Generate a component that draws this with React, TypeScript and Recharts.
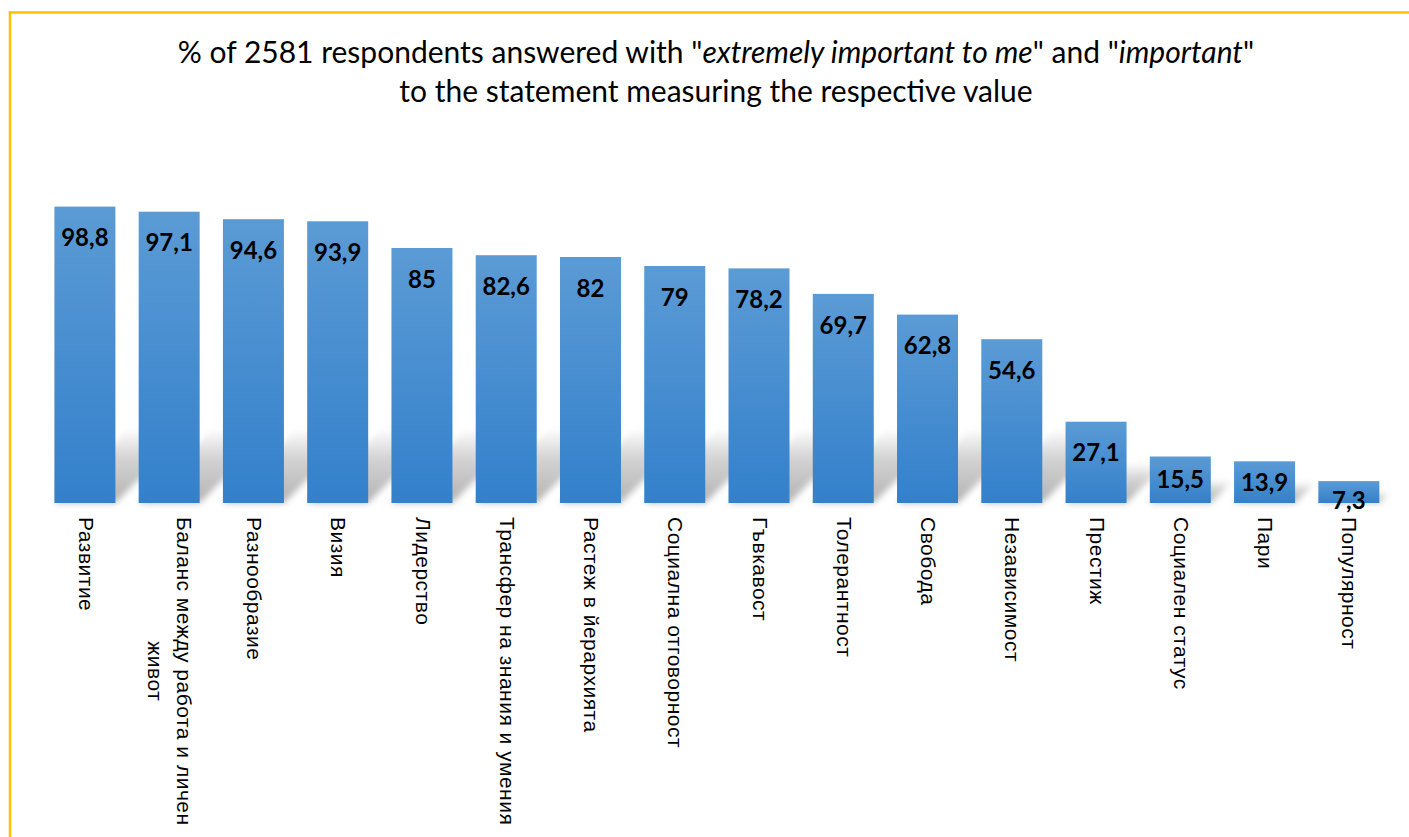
import React from 'react';
import { BarChart, Bar, XAxis, YAxis, LabelList } from 'recharts';

const categories = [
  'Развитие',
  'Баланс между работа и личен живот',
  'Разнообразие',
  'Визия',
  'Лидерство',
  'Трансфер на знания и умения',
  'Растеж в йерархията',
  'Социална отговорност',
  'Гъвкавост',
  'Толерантност',
  'Свобода',
  'Независимост',
  'Престиж',
  'Социален статус',
  'Пари',
  'Популярност',
];

const values = [98.8, 97.1, 94.6, 93.9, 85, 82.6, 82, 79, 78.2, 69.7, 62.8, 54.6, 27.1, 15.5, 13.9, 7.3];

const titleLine1 = ['% of 2581 respondents answered with "', 'extremely important to me', '" and "', 'important', '"'];
const titleLine2 = 'to the statement measuring the respective value';

const data = categories.map((name, i) => ({ name, value: values[i] }));

const W = 1409;
const H = 837;
const TICK_FONT = '21px "Liberation Sans"';
const TICK_SPACING = 0.5;
const TICK_MAX = 318;
const LINE_GAP = 28.6;

let ctx: CanvasRenderingContext2D | null = null;
const measure = (s: string) => {
  if (!ctx) {
    ctx = document.createElement('canvas').getContext('2d');
  }
  if (!ctx) return s.length * 11.5;
  ctx.font = TICK_FONT;
  return ctx.measureText(s).width + s.length * TICK_SPACING;
};

const wrap = (text: string) => {
  const words = text.split(' ');
  const lines: string[] = [];
  let cur = '';
  words.forEach(w => {
    const next = cur ? cur + ' ' + w : w;
    if (cur && measure(next) > TICK_MAX) {
      lines.push(cur);
      cur = w;
    } else {
      cur = next;
    }
  });
  if (cur) lines.push(cur);
  return lines;
};

const CategoryTick = (props: any) => {
  const { x, y, payload } = props;
  const lines = wrap(String(payload.value));
  const widest = Math.max(...lines.map(measure));
  const n = lines.length;
  return (
    <g transform={`translate(${x},${y + 14}) rotate(90)`}>
      {lines.map((ln, i) => (
        <text
          key={i}
          x={n > 1 ? widest / 2 : 0}
          y={6 + (i - (n - 1) / 2) * LINE_GAP}
          textAnchor={n > 1 ? 'middle' : 'start'}
          fontFamily='"Liberation Sans", Arial, sans-serif'
          fontSize={21}
          letterSpacing={TICK_SPACING}
          fill="#000"
        >
          {ln}
        </text>
      ))}
    </g>
  );
};

const ShadowBar = (props: any) => {
  const { x, y, width, height } = props;
  if (!width || height == null) return null;
  const b = y + height;
  const s = Math.min(height * 0.5, 75);
  const pts = `${x},${b} ${x + width},${b} ${x + width + s},${b - s} ${x + s},${b - s}`;
  return (
    <g>
      <polygon points={pts} fill="url(#shadowFade)" filter="url(#shadowBlur)" />
      <rect x={x} y={y} width={width} height={height} fill="url(#barFill)" />
    </g>
  );
};

const ValueLabel = (props: any) => {
  const vb = props.viewBox || props;
  const { x, y, width, height } = vb;
  const center = y + Math.min(31, Math.max(19, height / 2));
  return (
    <text
      x={x + width / 2}
      y={center + 8.6}
      textAnchor="middle"
      fontFamily="Lato, sans-serif"
      fontWeight={700}
      fontSize={24}
      fill="#000"
    >
      {String(props.value).replace('.', ',')}
    </text>
  );
};

export default function App() {
  return (
    <div style={{ position: 'relative', width: W, height: H, background: '#fff' }}>
      <style>{'body{margin:0;overflow:hidden}'}</style>
      <BarChart
        width={W}
        height={H}
        data={data}
        margin={{ top: 203, right: 18.4, left: 42.4, bottom: 0 }}
      >
        <defs>
          <linearGradient id="barFill" x1="0" y1="0" x2="0" y2="1">
            <stop offset="0%" stopColor="#5B9BD5" />
            <stop offset="100%" stopColor="#3380CB" />
          </linearGradient>
          <linearGradient id="shadowFade" x1="0" y1="1" x2="0" y2="0">
            <stop offset="0%" stopColor="#000" stopOpacity={0.3} />
            <stop offset="60%" stopColor="#000" stopOpacity={0.17} />
            <stop offset="100%" stopColor="#000" stopOpacity={0} />
          </linearGradient>
          <filter id="shadowBlur" x="-30%" y="-30%" width="160%" height="160%">
            <feGaussianBlur stdDeviation="3" />
          </filter>
        </defs>
        <XAxis
          dataKey="name"
          interval={0}
          height={334}
          axisLine={false}
          tickLine={false}
          tickSize={0}
          tickMargin={0}
          tick={<CategoryTick />}
        />
        <YAxis hide domain={[0, 100]} />
        <Bar dataKey="value" barSize={61} shape={<ShadowBar />} isAnimationActive={false}>
          <LabelList dataKey="value" content={<ValueLabel />} />
        </Bar>
      </BarChart>
      <svg
        width={W}
        height={H}
        style={{ position: 'absolute', left: 0, top: 0, pointerEvents: 'none' }}
      >
        <line x1={8.8} y1={12.5} x2={W} y2={12.5} stroke="#FFC000" strokeWidth={2.5} />
        <line x1={10} y1={11.5} x2={10} y2={H} stroke="#FFC000" strokeWidth={2.5} />
        <text x={716} y={63} textAnchor="middle" fontFamily="Lato, sans-serif" fontSize={30} fill="#000">
          {titleLine1.map((t, i) => (
            <tspan key={i} fontStyle={i % 2 === 1 ? 'italic' : 'normal'}>{t}</tspan>
          ))}
        </text>
        <text x={716} y={102} textAnchor="middle" fontFamily="Lato, sans-serif" fontSize={30} fill="#000">
          {titleLine2}
        </text>
      </svg>
    </div>
  );
}
